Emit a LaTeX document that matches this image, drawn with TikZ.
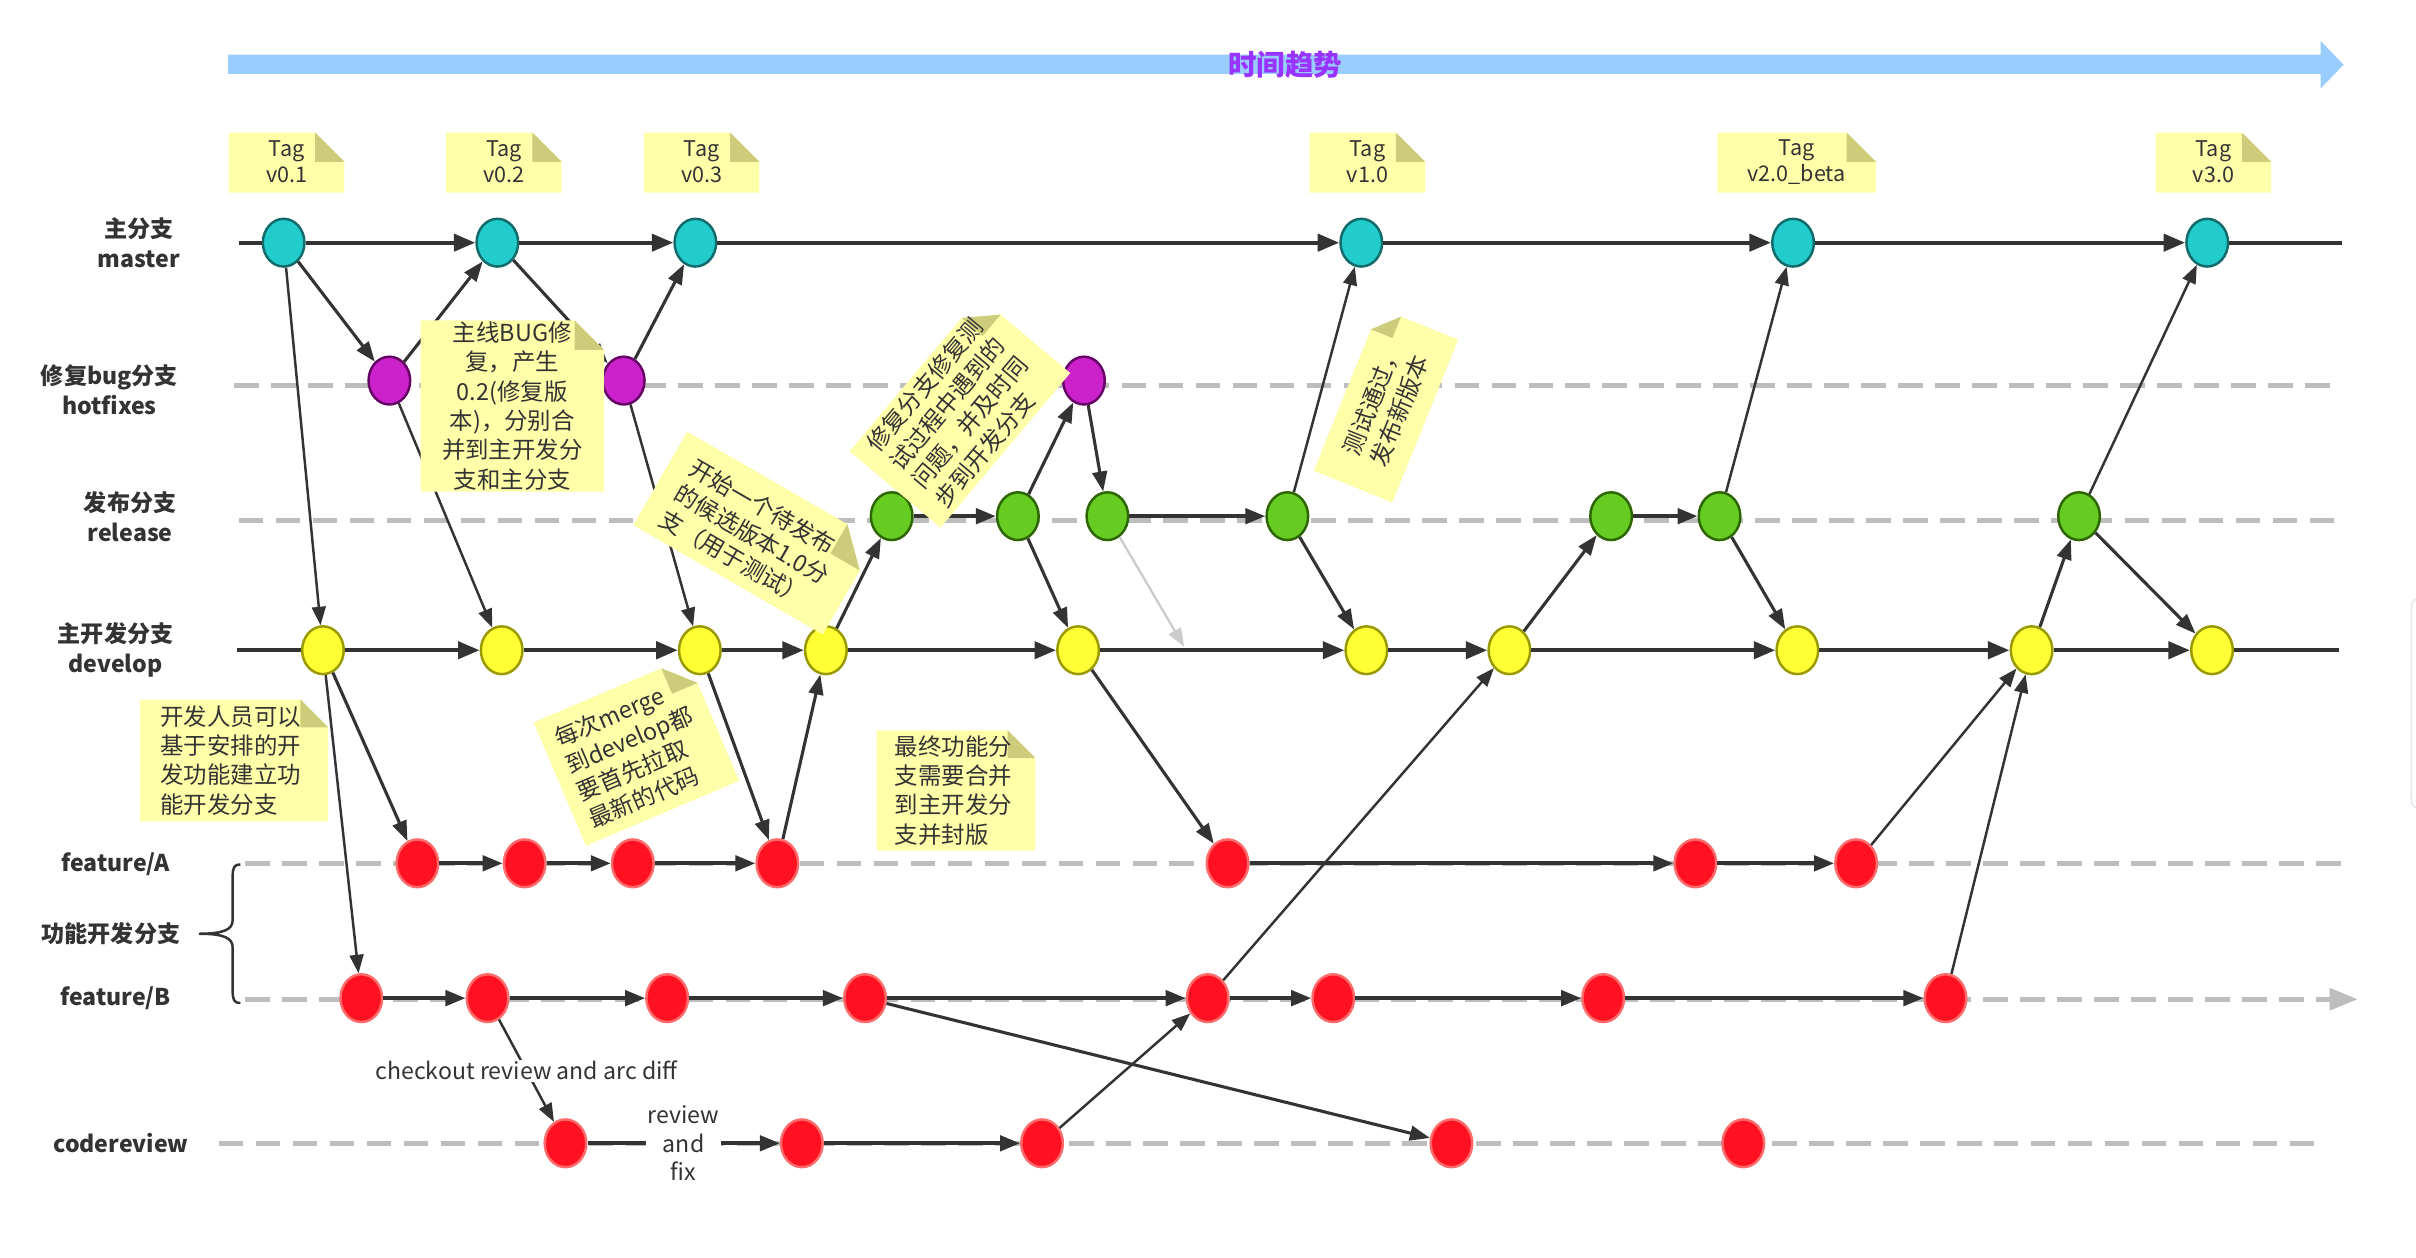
\documentclass[tikz,border=0pt]{standalone}
\usepackage{fontspec}
\setmainfont{Noto Sans CJK SC}
\usetikzlibrary{shapes.geometric,arrows.meta,calc}

\definecolor{lineC}{HTML}{333333}
\definecolor{dashC}{HTML}{BDBDBD}
\definecolor{tealF}{HTML}{22CCCC}
\definecolor{tealD}{HTML}{116B6B}
\definecolor{magF}{HTML}{CC22CC}
\definecolor{magD}{HTML}{660066}
\definecolor{grnF}{HTML}{66CC22}
\definecolor{grnD}{HTML}{2D6600}
\definecolor{yelF}{HTML}{FFFF33}
\definecolor{yelD}{HTML}{999900}
\definecolor{redF}{HTML}{FF1122}
\definecolor{redD}{HTML}{FF6A6A}
\definecolor{noteF}{HTML}{FFFFAA}
\definecolor{foldF}{HTML}{CCCC7A}
\definecolor{timeC}{HTML}{99CCFF}
\definecolor{timeT}{HTML}{9933FF}
\definecolor{ghostC}{HTML}{CCCCCC}
\definecolor{edgeC}{HTML}{E4E8EE}

% sticky note paper: centre, rotation, width, height, fold size
\newcommand{\notepaper}[5]{%
  \begin{scope}[shift={#1}, rotate=#2]
    \fill[noteF] ({-#3/2},{-#4/2}) -- ({#3/2-#5},{-#4/2}) -- ({#3/2},{-#4/2+#5})
      -- ({#3/2},{#4/2}) -- ({-#3/2},{#4/2}) -- cycle;
    \fill[foldF] ({#3/2-#5},{-#4/2}) -- ({#3/2},{-#4/2+#5}) -- ({#3/2-#5},{-#4/2+#5}) -- cycle;
  \end{scope}}

\tikzset{
  commit/.style={ellipse, minimum width=27pt, minimum height=31pt, inner sep=0pt, line width=1.6pt},
  mcommit/.style={commit, fill=tealF, draw=tealD},
  hcommit/.style={commit, fill=magF, draw=magD},
  rcommit/.style={commit, fill=grnF, draw=grnD},
  dcommit/.style={commit, fill=yelF, draw=yelD},
  fcommit/.style={commit, fill=redF, draw=redD},
  lane/.style={draw=dashC, line width=3pt, dash pattern=on 16pt off 8pt},
  trunk/.style={draw=lineC, line width=2.8pt},
  trunkarrow/.style={trunk, -{Triangle[length=14pt,width=11pt]}},
  hflow/.style={draw=lineC, line width=2.4pt, -{Triangle[length=13pt,width=10pt]}},
  dflow/.style={draw=lineC, line width=2pt, -{Triangle[length=13pt,width=9.5pt]}},
  thinflow/.style={draw=lineC, line width=1.6pt, -{Triangle[length=12pt,width=9pt]}},
  branchlabel/.style={font=\fontsize{15}{19.6}\selectfont\bfseries, text=lineC, align=center, inner sep=0pt},
  tagtext/.style={font=\fontsize{14}{17}\selectfont, text=lineC, align=center, inner sep=0pt},
  notetext/.style={font=\fontsize{15.2}{19}\selectfont, text=lineC, inner sep=0pt},
  flowlabel/.style={font=\fontsize{15}{18.6}\selectfont, text=lineC, align=center, fill=white, inner sep=1pt},
}

\begin{document}
\begin{tikzpicture}[x=1pt, y=-1pt]
\useasboundingbox (0,0) rectangle (1568,816);
\fill[white] (0,0) rectangle (1568,816);

% time axis
\fill[timeC] (148,35.5) -- (1506,35.5) -- (1506,26.5) -- (1521,42) -- (1506,57.5) -- (1506,48) -- (148,48) -- cycle;
\node[font=\fontsize{18.5}{22}\selectfont\bfseries, text=timeT] (trend) at (834,42) {时间趋势};

% window edge at the right border
\draw[edgeC, line width=1pt] (1569,389) -- (1568.5,389) .. controls (1566,389) and (1565,391) .. (1565,395)
  -- (1565,518) .. controls (1565,522) and (1566,524) .. (1568.5,524) -- (1569,524);

% lane guides
\coordinate (hS) at (152,250.3); \coordinate (hE) at (1517,250.3);
\coordinate (rS) at (155,338);   \coordinate (rE) at (1519,338);
\coordinate (aS) at (159,560.3); \coordinate (aE) at (1524,560.3);
\coordinate (bS) at (159,648.5); \coordinate (bE) at (1530,648.5);
\coordinate (cS) at (142,742);   \coordinate (cE) at (1508,742);
\draw[lane] (hS) -- (hE);
\draw[lane] (rS) -- (rE);
\draw[lane] (aS) -- (aE);
\draw[lane, -{Triangle[length=18pt,width=14pt]}] (bS) -- (bE);
\draw[lane] (cS) -- (cE);

% branch names
\node[branchlabel] (lMaster) at (90,157.5) {主分支\\master};
\node[branchlabel] (lHot) at (71,253) {修复bug分支\\hotfixes};
\node[branchlabel] (lRel) at (84.5,335.5) {发布分支\\release};
\node[branchlabel] (lDev) at (75,422) {主开发分支\\develop};
\node[branchlabel] (lFA) at (75,561) {feature/A};
\node[branchlabel] (lFeat) at (72,606) {功能开发分支};
\node[branchlabel] (lFB) at (75,648) {feature/B};
\node[branchlabel] (lCR) at (78.5,742) {codereview};
\draw[lineC, line width=1.6pt] (156,561) .. controls (152,561) and (151,563) .. (151,569)
  -- (151,597) .. controls (151,603) and (146,606) .. (129,606)
  .. controls (146,606) and (151,609) .. (151,615)
  -- (151,643) .. controls (151,649) and (152,651) .. (156,651);

% commits
\foreach \n/\x in {M1/184.1, M2/322.8, M3/451.3, M4/883.5, M5/1163.7, M6/1432.5}
  \node[mcommit] (\n) at (\x,157.5) {};
\foreach \n/\x in {H1/252.7, H2/404.8, H3/703.5}
  \node[hcommit] (\n) at (\x,247) {};
\foreach \n/\x in {R1/578.7, R2/660.6, R3/718.7, R4/835.5, R5/1045.6, R6/1116, R7/1349.3}
  \node[rcommit] (\n) at (\x,335) {};
\foreach \n/\x in {D1/209.6, D2/325.6, D3/454.2, D4/536, D5/699.7, D6/886.8, D7/979.6, D8/1166.5, D9/1318.5, D10/1435.6}
  \node[dcommit] (\n) at (\x,422) {};
\foreach \n/\x in {A1/270.9, A2/340.5, A3/410.7, A4/504.5, A5/796.7, A6/1100.3, A7/1204.6}
  \node[fcommit] (\n) at (\x,560.3) {};
\foreach \n/\x in {B1/234.5, B2/316.4, B3/433, B4/561.4, B5/783.8, B6/865.3, B7/1040.5, B8/1262.6}
  \node[fcommit] (\n) at (\x,647.8) {};
\foreach \n/\x in {C1/367, C2/520.4, C3/676.3, C4/942, C5/1131.4}
  \node[fcommit] (\n) at (\x,742) {};

% master and develop trunks
\coordinate (mS) at (155,157.5); \coordinate (mE) at (1520,157.5);
\coordinate (dS) at (154,422);   \coordinate (dE) at (1518,422);
\draw[trunk] (mS) -- (M1);
\foreach \a/\b in {M1/M2, M2/M3, M3/M4, M4/M5, M5/M6}
  \draw[trunkarrow] (\a) -- (\b);
\draw[trunk] (M6) -- (mE);
\draw[trunk] (dS) -- (D1);
\foreach \a/\b in {D1/D2, D2/D3, D3/D4, D4/D5, D5/D6, D6/D7, D7/D8, D8/D9, D9/D10}
  \draw[trunkarrow] (\a) -- (\b);
\draw[trunk] (D10) -- (dE);

% commits along a branch
\foreach \a/\b in {R1/R2, R3/R4, R5/R6, A1/A2, A2/A3, A3/A4, A5/A6, A6/A7,
                   B1/B2, B2/B3, B3/B4, B4/B5, B5/B6, B6/B7, B7/B8, C2/C3}
  \draw[hflow] (\a) -- (\b);

% merges and checkouts between branches
\foreach \a/\b in {M1/H1, H1/M2, M2/H2, H2/M3, D1/A1, D3/A4, A4/D4, D4/R1, R2/H3, H3/R3,
                   R2/D5, R4/D6, D5/A5, R6/D8, R7/D10, D9/R7, D7/R5, B4/C4}
  \draw[dflow] (\a) -- (\b);
\foreach \a/\b in {M1/D1, H1/D2, H2/D3, D1/B1, R4/M4, R6/M5, R7/M6, A7/D9, B8/D9, B5/D7, C3/B5}
  \draw[thinflow] (\a) -- (\b);

% abandoned merge from release
\coordinate (gT) at (768.5,419.7);
\draw[ghostC, line width=1.5pt, -{Triangle[length=12pt,width=9pt]}] (R3) -- (gT);

% code review hand-offs
\draw[thinflow] (B2) -- node[flowlabel] (ckLbl) {checkout review and arc diff} (C1);
\draw[hflow] (C1) -- node[flowlabel] (rvLbl) {review\\and\\fix} (C2);

% version tags
\foreach \n/\x/\w/\t in {t1/186/75/v0.1, t2/327/75/v0.2, t3/455.4/75/v0.3, t4/887.5/75/v1.0,
                         t5/1166/103/v2.0\_beta, t6/1436.5/75/v3.0}{
  \notepaper{(\x,105.5)}{0}{\w}{39}{19}
  \node[tagtext] (\n) at (\x,105) {Tag\\\t};
}

% annotations
\notepaper{(332.5,263.5)}{0}{119}{111}{19}
\node[notetext, align=center] (nHot) at (332.5,263.5)
  {主线BUG修\\复，产生\\0.2(修复版\\本)，分别合\\并到主开发分\\支和主分支};

\notepaper{(490,346)}{-30}{142}{70}{22}
\node[notetext, align=left, rotate=-30] (nRel) at (488,347)
  {开始一个待发布\\的候选版本1.0分\\支（用于测试）};

\notepaper{(623,267.5)}{50}{131}{77}{18}
\node[notetext, align=left, rotate=50] (nFix) at (622,268)
  {修复分支修复测\\试过程中遇到的\\问题，并及时同\\步到开发分支};

\notepaper{(899.5,263)}{68}{114}{55}{15}
\node[notetext, align=center, rotate=68] (nPass) at (899.5,263)
  {测试通过，\\发布新版本};

\notepaper{(152,493.5)}{0}{122}{79}{18}
\node[notetext, align=left, anchor=west] (nDev) at (104,493.5)
  {开发人员可以\\基于安排的开\\发功能建立功\\能开发分支};

\notepaper{(413,487.8)}{23}{108}{87}{18}
\node[notetext, align=left, rotate=23] (nMerge) at (412,489)
  {每次merge\\到develop都\\要首先拉取\\最新的代码};

\notepaper{(620.5,513)}{0}{103}{78}{18}
\node[notetext, align=left, anchor=west] (nFinal) at (580.5,513)
  {最终功能分\\支需要合并\\到主开发分\\支并封版};

\end{tikzpicture}
\end{document}
